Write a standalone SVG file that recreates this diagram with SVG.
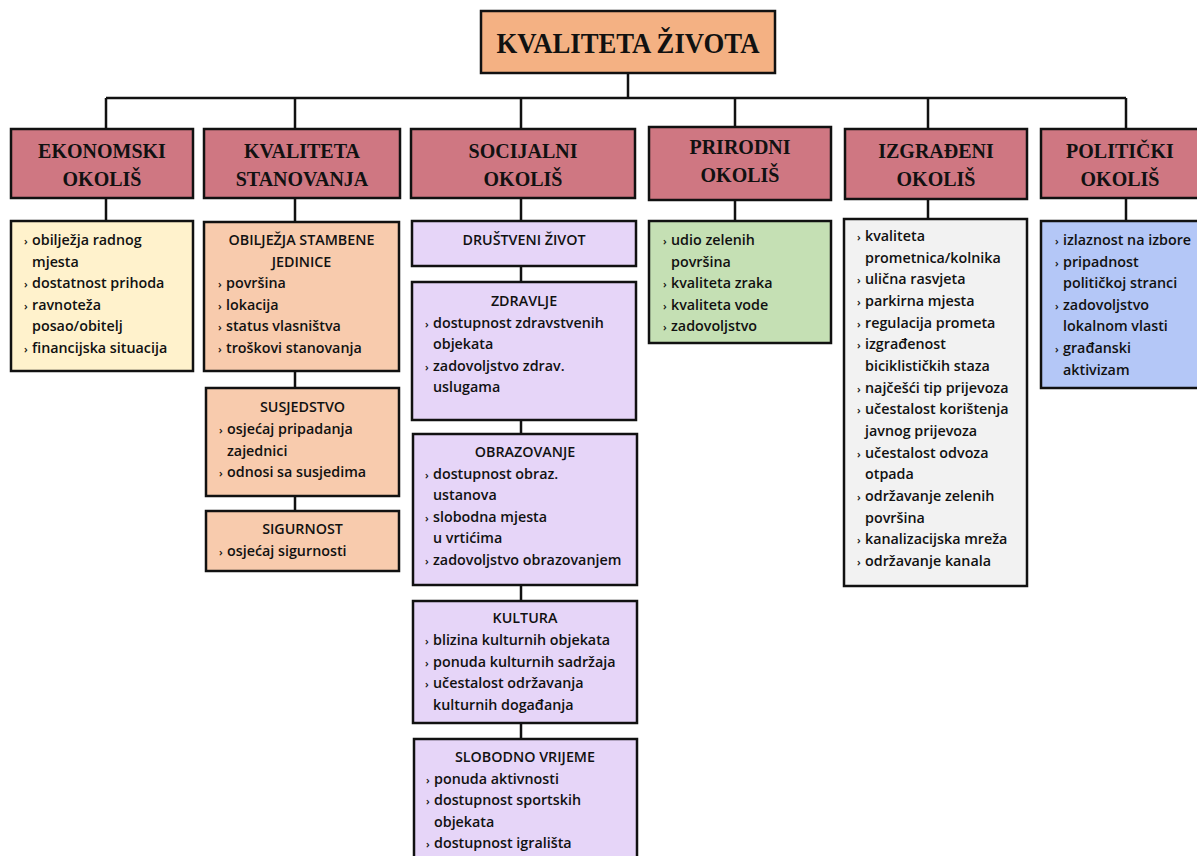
<svg xmlns="http://www.w3.org/2000/svg" width="1197" height="856" viewBox="0 0 1197 856">
<style>
.bx{stroke:#111;stroke-width:2.5}
.top{fill:#f4b183}
.hdr{fill:#cf7782}
.eko{fill:#fff2cc}
.sta{fill:#f8cbad}
.soc{fill:#e6d5f8}
.pri{fill:#c5e0b4}
.izg{fill:#f2f2f2}
.pol{fill:#b4c7f7}
.tt{font-family:"Liberation Serif",serif;font-weight:bold;fill:#111;text-anchor:middle}
.h{font-size:20px}
.c{font-family:"Open Sans","Liberation Sans",sans-serif;font-weight:600;font-size:14.3px;fill:#111}
.cap{text-anchor:middle;font-size:14.3px}
.b{font-size:11px}
.con path{fill:none;stroke:#111;stroke-width:2.5}
</style>
<rect x="0" y="0" width="1197" height="856" fill="#fff"/>
<g class="con" id="connectors">
<path d="M628 73V98M106 98H1126M106 98V129M295 98V129M521 98V129M735 98V127M928 98V129M1126 98V129"/>
<path d="M106 198V221M295 198V222M521 198V221M735 200V221M928 199V219M1126 198V221"/>
<path d="M295 371V388M295 496V511"/>
<path d="M521 266V282M521 420V434M521 585V601M521 723V739"/>
</g>
<g id="kvaliteta-zivota">
<rect class="bx top" x="481" y="11" width="294" height="62"/>
<text class="tt" x="628" y="53" font-size="30" textLength="263" lengthAdjust="spacingAndGlyphs">KVALITETA ŽIVOTA</text>
</g>
<g id="h-ekonomski">
<rect class="bx hdr" x="11" y="129" width="182" height="69"/>
<text class="tt h" x="102" y="158">EKONOMSKI</text><text class="tt h" x="102" y="186">OKOLIŠ</text>
</g>
<g id="h-stanovanje">
<rect class="bx hdr" x="204" y="129" width="196" height="69"/>
<text class="tt h" x="302" y="158">KVALITETA</text><text class="tt h" x="302" y="186">STANOVANJA</text>
</g>
<g id="h-socijalni">
<rect class="bx hdr" x="411" y="129" width="224" height="69"/>
<text class="tt h" x="523" y="158">SOCIJALNI</text><text class="tt h" x="523" y="186">OKOLIŠ</text>
</g>
<g id="h-prirodni">
<rect class="bx hdr" x="649" y="127" width="182" height="73"/>
<text class="tt h" x="740" y="154">PRIRODNI</text><text class="tt h" x="740" y="182">OKOLIŠ</text>
</g>
<g id="h-izgradeni">
<rect class="bx hdr" x="845" y="129" width="182" height="70"/>
<text class="tt h" x="936" y="158">IZGRAĐENI</text><text class="tt h" x="936" y="186">OKOLIŠ</text>
</g>
<g id="h-politicki">
<rect class="bx hdr" x="1041" y="129" width="172" height="69"/>
<text class="tt h" x="1120" y="158">POLITIČKI</text><text class="tt h" x="1120" y="186">OKOLIŠ</text>
</g>
<g id="c-ekonomski">
<rect class="bx eko" x="11" y="221" width="182" height="150"/>
<text class="c b" x="24" y="245">›</text><text class="c" x="32" y="245">obilježja radnog</text>
<text class="c" x="32" y="266.6">mjesta</text>
<text class="c b" x="24" y="288.2">›</text><text class="c" x="32" y="288.2">dostatnost prihoda</text>
<text class="c b" x="24" y="309.8">›</text><text class="c" x="32" y="309.8">ravnoteža</text>
<text class="c" x="32" y="331.4">posao/obitelj</text>
<text class="c b" x="24" y="353">›</text><text class="c" x="32" y="353">financijska situacija</text>
</g>
<g id="c-obiljezja">
<rect class="bx sta" x="204" y="222" width="195" height="149"/>
<text class="c cap" x="301.5" y="245">OBILJEŽJA STAMBENE</text>
<text class="c cap" x="301.5" y="266.6">JEDINICE</text>
<text class="c b" x="218" y="288.2">›</text><text class="c" x="226" y="288.2">površina</text>
<text class="c b" x="218" y="309.8">›</text><text class="c" x="226" y="309.8">lokacija</text>
<text class="c b" x="218" y="331.4">›</text><text class="c" x="226" y="331.4">status vlasništva</text>
<text class="c b" x="218" y="353">›</text><text class="c" x="226" y="353">troškovi stanovanja</text>
</g>
<g id="c-susjedstvo">
<rect class="bx sta" x="206" y="388" width="193" height="108"/>
<text class="c cap" x="302.5" y="412">SUSJEDSTVO</text>
<text class="c b" x="219" y="434">›</text><text class="c" x="227" y="434">osjećaj pripadanja</text>
<text class="c" x="227" y="455.5">zajednici</text>
<text class="c b" x="219" y="477">›</text><text class="c" x="227" y="477">odnosi sa susjedima</text>
</g>
<g id="c-sigurnost">
<rect class="bx sta" x="206" y="511" width="193" height="60"/>
<text class="c cap" x="302.5" y="534">SIGURNOST</text>
<text class="c b" x="219" y="556">›</text><text class="c" x="227" y="556">osjećaj sigurnosti</text>
</g>
<g id="c-drustveni">
<rect class="bx soc" x="412" y="221" width="224" height="45"/>
<text class="c cap" x="524" y="245">DRUŠTVENI ŽIVOT</text>
</g>
<g id="c-zdravlje">
<rect class="bx soc" x="412" y="282" width="224" height="138"/>
<text class="c cap" x="524" y="306">ZDRAVLJE</text>
<text class="c b" x="425" y="327.6">›</text><text class="c" x="433" y="327.6">dostupnost zdravstvenih</text>
<text class="c" x="433" y="349.2">objekata</text>
<text class="c b" x="425" y="370.8">›</text><text class="c" x="433" y="370.8">zadovoljstvo zdrav.</text>
<text class="c" x="433" y="392.4">uslugama</text>
</g>
<g id="c-obrazovanje">
<rect class="bx soc" x="413" y="434" width="224" height="151"/>
<text class="c cap" x="525" y="457">OBRAZOVANJE</text>
<text class="c b" x="425" y="478.6">›</text><text class="c" x="433" y="478.6">dostupnost obraz.</text>
<text class="c" x="433" y="500.2">ustanova</text>
<text class="c b" x="425" y="521.8">›</text><text class="c" x="433" y="521.8">slobodna mjesta</text>
<text class="c" x="433" y="543.4">u vrtićima</text>
<text class="c b" x="425" y="565">›</text><text class="c" x="433" y="565">zadovoljstvo obrazovanjem</text>
</g>
<g id="c-kultura">
<rect class="bx soc" x="413" y="601" width="224" height="122"/>
<text class="c cap" x="525" y="623">KULTURA</text>
<text class="c b" x="425" y="645">›</text><text class="c" x="433" y="645">blizina kulturnih objekata</text>
<text class="c b" x="425" y="666.5">›</text><text class="c" x="433" y="666.5">ponuda kulturnih sadržaja</text>
<text class="c b" x="425" y="688">›</text><text class="c" x="433" y="688">učestalost održavanja</text>
<text class="c" x="433" y="709.5">kulturnih događanja</text>
</g>
<g id="c-slobodno">
<rect class="bx soc" x="414" y="739" width="223" height="130"/>
<text class="c cap" x="525" y="762">SLOBODNO VRIJEME</text>
<text class="c b" x="426" y="783.5">›</text><text class="c" x="434" y="783.5">ponuda aktivnosti</text>
<text class="c b" x="426" y="805">›</text><text class="c" x="434" y="805">dostupnost sportskih</text>
<text class="c" x="434" y="826.5">objekata</text>
<text class="c b" x="426" y="848">›</text><text class="c" x="434" y="848">dostupnost igrališta</text>
</g>
<g id="c-prirodni">
<rect class="bx pri" x="649" y="221" width="182" height="122"/>
<text class="c b" x="663" y="245">›</text><text class="c" x="671" y="245">udio zelenih</text>
<text class="c" x="671" y="266.6">površina</text>
<text class="c b" x="663" y="288.2">›</text><text class="c" x="671" y="288.2">kvaliteta zraka</text>
<text class="c b" x="663" y="309.8">›</text><text class="c" x="671" y="309.8">kvaliteta vode</text>
<text class="c b" x="663" y="331.4">›</text><text class="c" x="671" y="331.4">zadovoljstvo</text>
</g>
<g id="c-izgradeni">
<rect class="bx izg" x="844" y="219" width="183" height="367"/>
<text class="c b" x="857" y="241">›</text><text class="c" x="865" y="241">kvaliteta</text>
<text class="c" x="865" y="262.7">prometnica/kolnika</text>
<text class="c b" x="857" y="284.3">›</text><text class="c" x="865" y="284.3">ulična rasvjeta</text>
<text class="c b" x="857" y="306">›</text><text class="c" x="865" y="306">parkirna mjesta</text>
<text class="c b" x="857" y="327.7">›</text><text class="c" x="865" y="327.7">regulacija prometa</text>
<text class="c b" x="857" y="349.3">›</text><text class="c" x="865" y="349.3">izgrađenost</text>
<text class="c" x="865" y="371">biciklističkih staza</text>
<text class="c b" x="857" y="392.7">›</text><text class="c" x="865" y="392.7">najčešći tip prijevoza</text>
<text class="c b" x="857" y="414.3">›</text><text class="c" x="865" y="414.3">učestalost korištenja</text>
<text class="c" x="865" y="436">javnog prijevoza</text>
<text class="c b" x="857" y="457.7">›</text><text class="c" x="865" y="457.7">učestalost odvoza</text>
<text class="c" x="865" y="479.3">otpada</text>
<text class="c b" x="857" y="501">›</text><text class="c" x="865" y="501">održavanje zelenih</text>
<text class="c" x="865" y="522.7">površina</text>
<text class="c b" x="857" y="544.3">›</text><text class="c" x="865" y="544.3">kanalizacijska mreža</text>
<text class="c b" x="857" y="566">›</text><text class="c" x="865" y="566">održavanje kanala</text>
</g>
<g id="c-politicki">
<rect class="bx pol" x="1041" y="221" width="172" height="167"/>
<text class="c b" x="1055" y="245">›</text><text class="c" x="1063" y="245">izlaznost na izbore</text>
<text class="c b" x="1055" y="266.6">›</text><text class="c" x="1063" y="266.6">pripadnost</text>
<text class="c" x="1063" y="288.2">političkoj stranci</text>
<text class="c b" x="1055" y="309.8">›</text><text class="c" x="1063" y="309.8">zadovoljstvo</text>
<text class="c" x="1063" y="331.4">lokalnom vlasti</text>
<text class="c b" x="1055" y="353">›</text><text class="c" x="1063" y="353">građanski</text>
<text class="c" x="1063" y="374.6">aktivizam</text>
</g>
</svg>
